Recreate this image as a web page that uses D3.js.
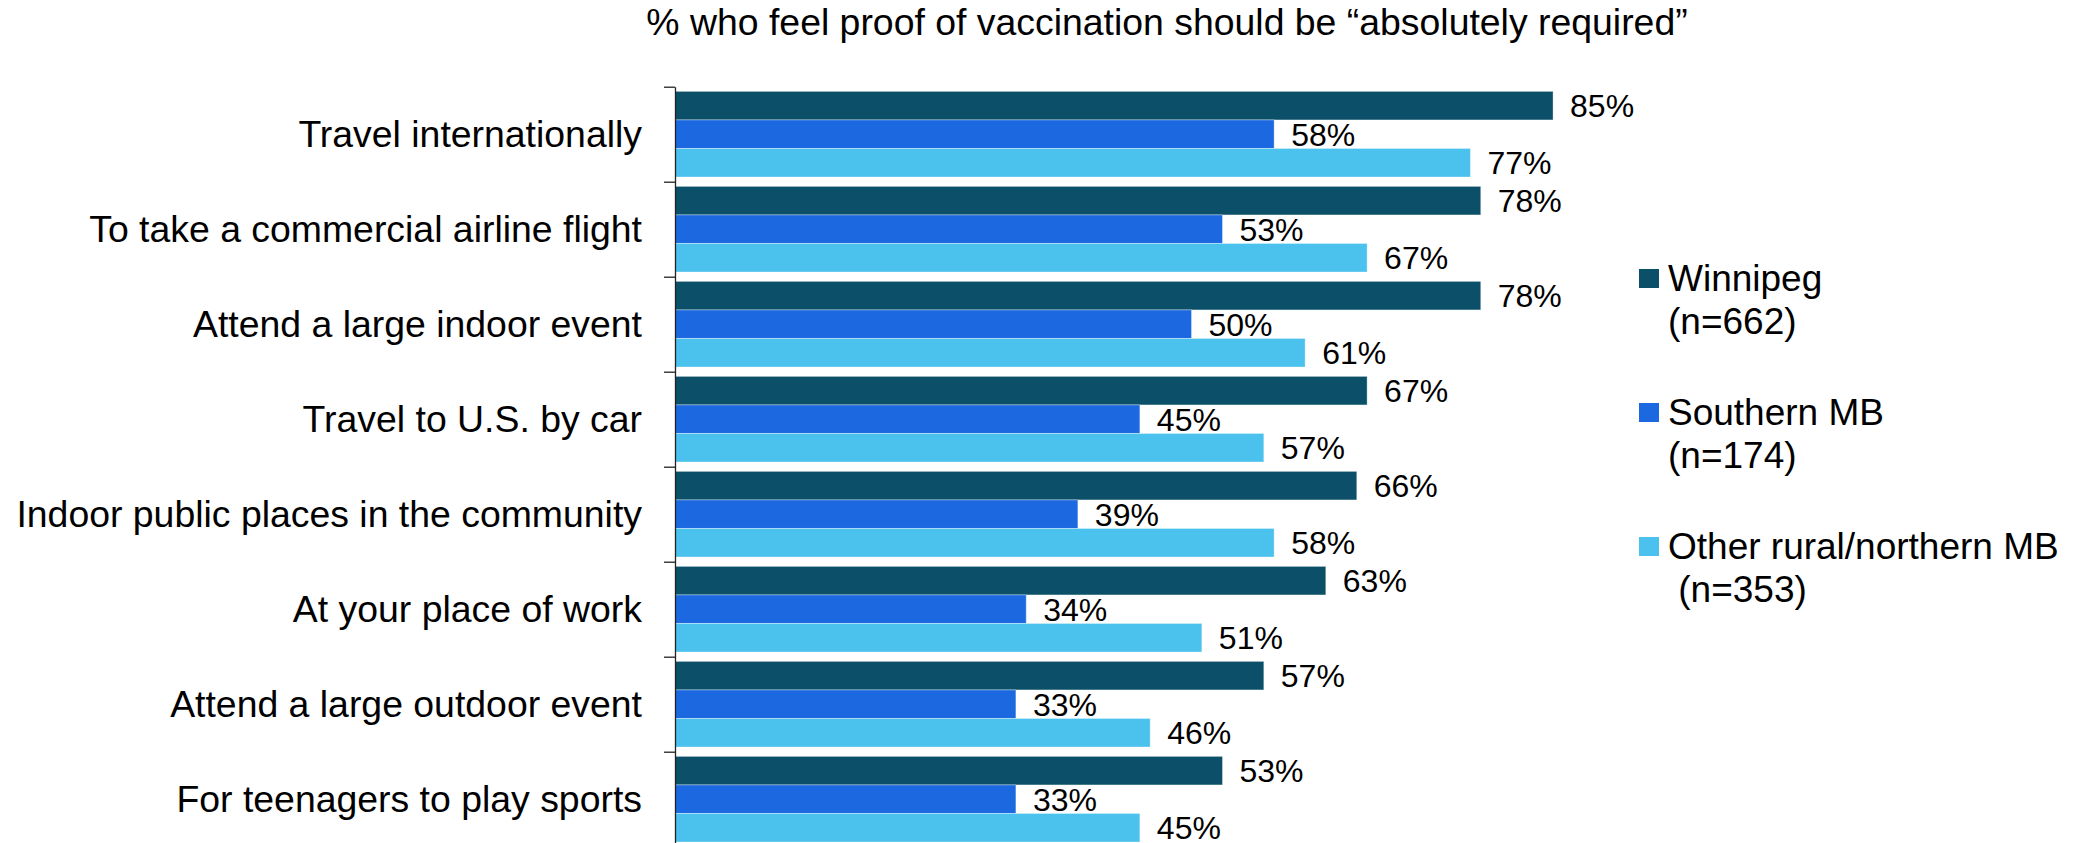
<!DOCTYPE html>
<html>
<head>
<meta charset="utf-8">
<script src="https://cdn.jsdelivr.net/npm/d3@7"></script>
<style>
  html, body { margin: 0; padding: 0; background: #ffffff; }
  svg { display: block; font-family: "Liberation Sans", Arial, sans-serif; }
</style>
</head>
<body>
<svg id="chart" width="2084" height="843"></svg>
<script>
const title = "% who feel proof of vaccination should be \u201Cabsolutely required\u201D";
const categories = [
  "Travel internationally",
  "To take a commercial airline flight",
  "Attend a large indoor event",
  "Travel to U.S. by car",
  "Indoor public places in the community",
  "At your place of work",
  "Attend a large outdoor event",
  "For teenagers to play sports"
];
const seriesNames = ["Winnipeg", "Southern MB", "Other rural/northern MB"];
const legendSub = ["(n=662)", "(n=174)", " (n=353)"];
const winnipeg = [85, 78, 78, 67, 66, 63, 57, 53];
const southern = [58, 53, 50, 45, 39, 34, 33, 33];
const other = [77, 67, 61, 57, 58, 51, 46, 45];
const colors = ["#0b4f69", "#1c68e0", "#4bc1ee"];

const seriesValues = [winnipeg, southern, other];
const rows = categories.map((c, i) => ({
  cat: c,
  vals: seriesNames.map((s, j) => ({ series: s, idx: j, value: seriesValues[j][i] }))
}));

const svg = d3.select("#chart");
const axisX = 675, plotTop = 86.7, band = 95;

const x = d3.scaleLinear().domain([0, 100]).range([axisX, axisX + 1033]);
const y = d3.scaleBand().domain(categories).range([plotTop, plotTop + band * categories.length]).padding(0);
const y1 = d3.scaleBand().domain(seriesNames).range([4.7, band - 4.7]).padding(0);
const color = d3.scaleOrdinal().domain(seriesNames).range(colors);

// title
svg.append("text")
  .attr("x", 1167).attr("y", 35)
  .attr("text-anchor", "middle")
  .style("font-size", "37.4px").style("fill", "#000")
  .text(title);

// bars
const g = svg.append("g");
const groups = g.selectAll("g.grp").data(rows).join("g")
  .attr("class", "grp")
  .attr("transform", d => `translate(0,${y(d.cat)})`);

groups.selectAll("rect").data(d => d.vals).join("rect")
  .attr("x", x(0))
  .attr("y", d => y1(d.series))
  .attr("width", d => x(d.value) - x(0))
  .attr("height", y1.bandwidth())
  .attr("fill", d => color(d.series))
  .attr("stroke", "rgba(255,255,255,0.35)")
  .attr("stroke-width", 1);

groups.selectAll("text.val").data(d => d.vals).join("text")
  .attr("class", "val")
  .attr("x", d => x(d.value) + 17)
  .attr("y", d => y1(d.series) + y1.bandwidth() / 2 + 0.5)
  .attr("dominant-baseline", "central")
  .style("font-size", "32px").style("fill", "#000")
  .text(d => d.value + "%");

// axis line with boundary ticks
const idx = d3.scaleLinear().domain([0, categories.length]).range([plotTop, plotTop + band * categories.length]);
const axisG = svg.append("g")
  .attr("transform", `translate(${axisX},0)`)
  .call(d3.axisLeft(idx).ticks(categories.length).tickFormat("").tickSize(11).tickSizeOuter(0));
axisG.select(".domain").attr("stroke", "#222").attr("stroke-width", 1.3);
axisG.selectAll(".tick line").attr("stroke", "#222").attr("stroke-width", 1.3);

// category labels
svg.append("g").selectAll("text").data(categories).join("text")
  .attr("x", axisX - 33)
  .attr("y", d => y(d) + band / 2)
  .attr("dominant-baseline", "central")
  .attr("text-anchor", "end")
  .style("font-size", "37.4px").style("fill", "#000")
  .text(d => d);

// legend
const leg = svg.append("g").attr("transform", "translate(1639,269)");
const items = leg.selectAll("g").data(seriesNames).join("g")
  .attr("transform", (d, i) => `translate(0,${i * 134})`);
items.append("rect")
  .attr("width", 20).attr("height", 19)
  .attr("fill", d => color(d));
items.append("text")
  .attr("x", 29).attr("y", 22)
  .style("font-size", "37px").style("fill", "#000")
  .text(d => d);
items.append("text")
  .attr("x", 29).attr("y", 65)
  .attr("xml:space", "preserve")
  .style("white-space", "pre")
  .style("font-size", "37px").style("fill", "#000")
  .text((d, i) => legendSub[i]);
</script>
</body>
</html>
